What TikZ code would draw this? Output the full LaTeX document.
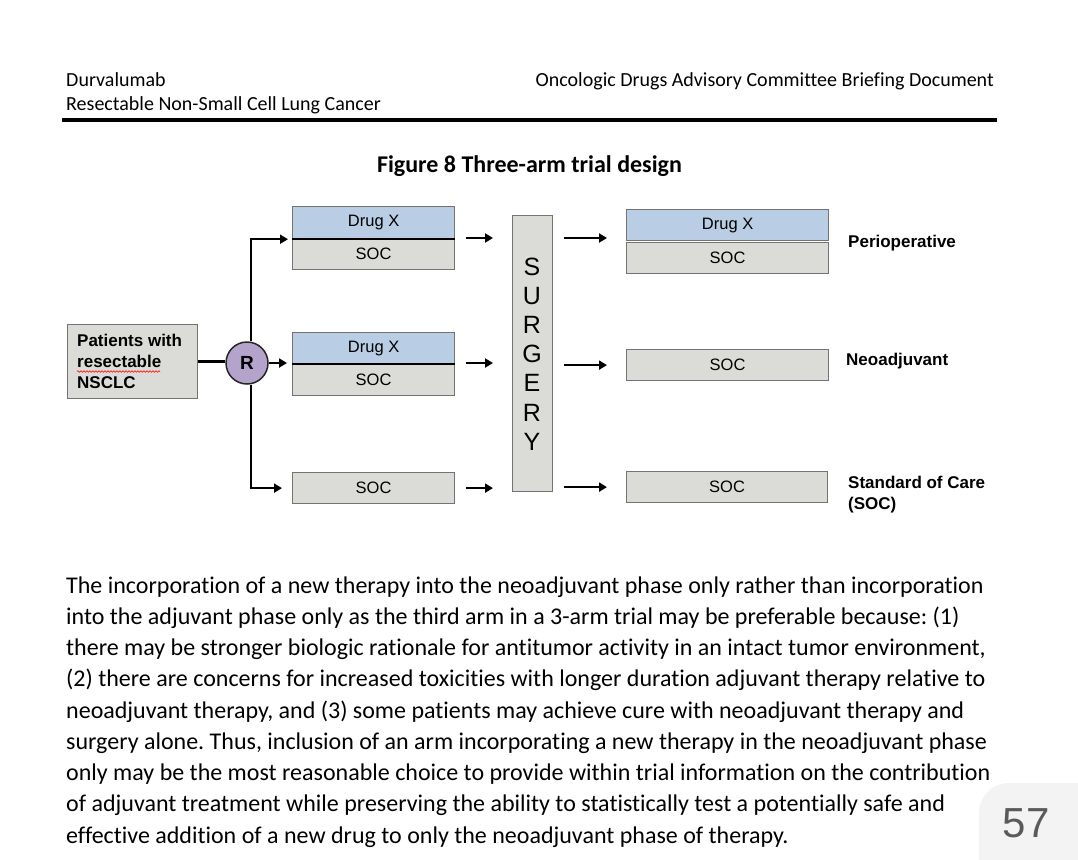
\documentclass[tikz,border=0pt]{standalone}
\usepackage{fontspec}
\setmainfont[Ligatures=NoCommon]{Carlito}
\newfontfamily\arial{Liberation Sans}
\usetikzlibrary{arrows.meta,decorations.pathmorphing}
\definecolor{drugblue}{RGB}{185,205,228}
\definecolor{socgray}{RGB}{219,220,216}
\definecolor{edgegray}{RGB}{115,115,115}
\definecolor{rpurple}{RGB}{180,164,204}
\definecolor{badge}{RGB}{243,243,243}
\definecolor{numgray}{RGB}{90,90,90}
\frenchspacing
\begin{document}
\begin{tikzpicture}[x=1pt,y=-1pt,
 box/.style={draw=edgegray,line width=1.2pt,inner sep=0pt,anchor=north west,font=\arial\fontsize{16.5}{20}\selectfont},
 drug/.style={box,fill=drugblue,minimum height=31pt},
 soc/.style={box,fill=socgray,minimum height=31pt},
 arr/.style={line width=2.4pt,-{Triangle[length=8pt,width=9pt]}},
 lbl/.style={anchor=west,inner sep=0pt,font=\arial\bfseries\fontsize{17}{21}\selectfont,align=left},
 body/.style={anchor=base west,inner sep=0pt,font=\fontsize{24}{31}\selectfont},
 hdr/.style={inner sep=0pt,font=\fontsize{20}{24}\selectfont}]
\fill[white] (0,0) rectangle (1078,859);
\useasboundingbox (0,0) rectangle (1078,859);
% header
\node[hdr,anchor=base west] (h1) at (66,86) {Durvalumab};
\node[hdr,anchor=base west] (h2) at (66,110) {Resectable Non-Small Cell Lung Cancer};
\node[hdr,anchor=base east] (h3) at (994,86) {Oncologic Drugs Advisory Committee Briefing Document};
\draw[line width=4pt] (62,119.5) -- (997,119.5);
\node[anchor=base,inner sep=0pt,font=\bfseries\fontsize{24}{28}\selectfont] (cap) at (529.5,172) {Figure 8 Three-arm trial design};
% diagram
\node[box,fill=socgray,minimum width=130pt,minimum height=74pt] (pat) at (67,324) {};
\node[lbl] (pt) at (77,361) {Patients with\\resectable\\NSCLC};
\draw[red,line width=0.6pt,decorate,decoration={snake,amplitude=0.8pt,segment length=3pt}] (77,371.5) -- (160,371.5);
\node[circle,draw=black!85,line width=1.5pt,fill=rpurple,minimum size=42pt,inner sep=0pt,font=\arial\bfseries\fontsize{19}{19}\selectfont] (R) at (247,363) {R};

\node[drug,minimum width=162pt,minimum height=32pt] (d1) at (292,206) {Drug X};
\node[soc,minimum width=162pt] (s1) at (292,238) {SOC};
\node[drug,minimum width=162pt] (d2) at (292,332) {Drug X};
\node[soc,minimum width=162pt,minimum height=32pt] (s2) at (292,363) {SOC};
\node[soc,minimum width=162pt] (s3) at (292,472) {SOC};
\draw[line width=1.5pt] (d1.south west) -- (d1.south east);
\draw[line width=1.5pt] (d2.south west) -- (d2.south east);

\node[box,fill=socgray,minimum width=40pt,minimum height=276pt] (surg) at (512,215) {};
\node[inner sep=0pt,align=center,font=\arial\fontsize{25}{29.2}\selectfont] (st) at (532,354) {S\\U\\R\\G\\E\\R\\Y};

\node[drug,minimum width=202pt] (d4) at (626,209) {Drug X};
\node[soc,minimum width=202pt] (s4) at (626,242) {SOC};
\node[soc,minimum width=202pt] (s5) at (626,349) {SOC};
\node[soc,minimum width=201pt] (s6) at (626,471) {SOC};

\node[lbl] (l1) at (848,243) {Perioperative};
\node[lbl] (l2) at (846,361) {Neoadjuvant};
\node[lbl] (l3) at (848,494.5) {Standard of Care\\(SOC)};

% connectors
\draw[line width=2.4pt] (pat.east) -- (pat.east -| R.west);
\draw[arr,shorten >=4pt] ([xshift=4pt]R.north) |- (d1.south west);
\draw[arr,shorten >=5pt] (R.east) -- (R.east -| d2.west);
\draw[arr,shorten >=10pt] ([xshift=4pt]R.south) |- (s3.west);

\draw[arr] ([xshift=11pt]s1.north east) -- ([xshift=-19pt]surg.west |- s1.north east);
\draw[arr] ([xshift=11pt]s2.north east) -- ([xshift=-19pt]surg.west |- s2.north east);
\draw[arr] ([xshift=11pt]s3.east) -- ([xshift=-19pt]surg.west |- s3.east);

\draw[arr] ([xshift=11pt]surg.east |- s1.north east) -- ([xshift=-19pt]d4.west |- s1.north east);
\draw[arr] ([xshift=11pt]surg.east |- s5.west) -- ([xshift=-19pt]s5.west);
\draw[arr] ([xshift=11pt]surg.east |- s6.west) -- ([xshift=-19pt]s6.west);

% body text
\node[body] (b1) at (66,593) {The incorporation of a new therapy into the neoadjuvant phase only rather than incorporation};
\node[body] (b2) at (66,624.25) {into the adjuvant phase only as the third arm in a 3-arm trial may be preferable because: (1)};
\node[body] (b3) at (66,655.5) {there may be stronger biologic rationale for antitumor activity in an intact tumor environment,};
\node[body] (b4) at (66,686.75) {(2) there are concerns for increased toxicities with longer duration adjuvant therapy relative to};
\node[body] (b5) at (66,718) {neoadjuvant therapy, and (3) some patients may achieve cure with neoadjuvant therapy and};
\node[body] (b6) at (66,749.25) {surgery alone. Thus, inclusion of an arm incorporating a new therapy in the neoadjuvant phase};
\node[body] (b7) at (66,780.5) {only may be the most reasonable choice to provide within trial information on the contribution};
\node[body] (b8) at (66,811.75) {of adjuvant treatment while preserving the ability to statistically test a potentially safe and};
\node[body] (b9) at (66,843) {effective addition of a new drug to only the neoadjuvant phase of therapy.};

% page badge
\fill[badge,rounded corners=30pt] (979,783) rectangle (1120,900);
\node[inner sep=0pt,font=\arial\fontsize{42}{42}\selectfont,text=numgray] (pg) at (1026,823) {57};
\end{tikzpicture}
\end{document}
